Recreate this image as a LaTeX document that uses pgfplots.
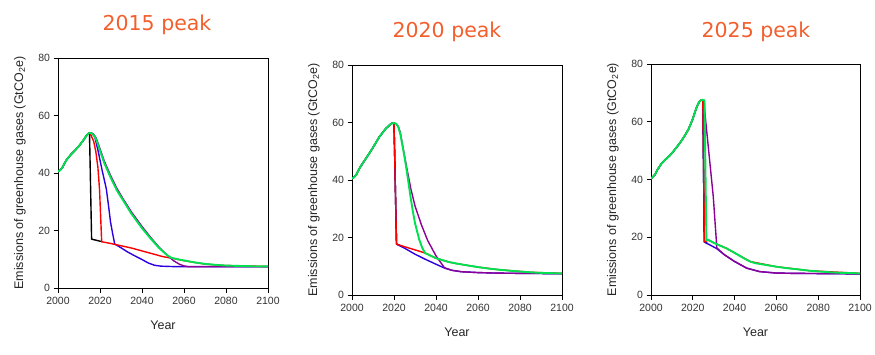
\documentclass[border=0pt]{standalone}
\usepackage{fontspec}
\setmainfont{Liberation Sans}
\newfontfamily\titlefont{DejaVu Sans}
\usepackage{pgfplots}
\pgfplotsset{compat=1.18}
\definecolor{cgreen}{RGB}{0,225,80}
\definecolor{cblue}{RGB}{45,0,225}
\definecolor{cpurple}{RGB}{140,0,150}
\definecolor{cred}{RGB}{255,0,0}
\definecolor{ctitle}{RGB}{242,95,45}
\pgfplotsset{
  panel/.style={
    scale only axis, width=210pt, height=230pt, anchor=south west,
    xmin=2000, xmax=2100, ymin=0, ymax=80,
    xtick={2000,2020,...,2100}, ytick={0,20,...,80},
    tick pos=left, tick align=outside, major tick length=4.5pt,
    axis line style={black, line width=0.7pt},
    tick style={black, line width=0.7pt},
    xticklabel style={font=\fontsize{10.5}{12}\selectfont, text=black!80, yshift=-1pt},
    yticklabel style={font=\fontsize{10.5}{12}\selectfont, text=black!80},
    /pgf/number format/assume math mode=true,
    /pgf/number format/1000 sep={},
    xlabel={Year},
    ylabel={Emissions of greenhouse gases (GtCO\textsubscript{2}e)},
    every axis x label/.style={at={(axis description cs:0.5,0)}, yshift=-37pt, anchor=center, font=\fontsize{12.5}{14}\selectfont, text=black!85},
    every axis y label/.style={at={(axis description cs:0,0.5)}, xshift=-38pt, rotate=90, anchor=center, font=\fontsize{12.5}{14}\selectfont, text=black!85},
    every axis plot/.append style={line join=round, line cap=round, no markers},
  },
  thin line/.style={line width=1.4pt},
  thick line/.style={line width=1.9pt},
}
\begin{document}
\begin{tikzpicture}[x=1pt,y=1pt]
\useasboundingbox (0,0) rectangle (875,354);
% ---------------- Panel 1: 2015 peak
\begin{axis}[panel, at={(58pt,66pt)}]
\addplot[black, thin line] coordinates {(2000,40.5)(2001,41)(2002,41.8)(2003,43.2)(2004,44.5)(2006,46.3)(2008,47.8)(2010,49.4)(2012,51.3)(2013,52.4)(2014,53.4)(2015,54)
 (2016,17)(2021,16.1)};
\addplot[cblue, thin line] coordinates {(2000,40.5)(2001,41)(2002,41.8)(2003,43.2)(2004,44.5)(2006,46.3)(2008,47.8)(2010,49.4)(2012,51.3)(2013,52.4)(2014,53.4)(2015,54)
 (2016,53.9)(2017.5,52.6)(2019,48)(2021,41)(2023,34.5)(2024,29)(2025,23)(2026,19)(2027,15.3)(2030,14)(2033,12.6)(2036,11.4)(2040,9.9)(2043,8.7)(2046,7.9)(2049,7.6)(2055,7.45)(2100,7.4)};
\addplot[cred, thin line] coordinates {(2000,40.5)(2001,41)(2002,41.8)(2003,43.2)(2004,44.5)(2006,46.3)(2008,47.8)(2010,49.4)(2012,51.3)(2013,52.4)(2014,53.4)(2015,54)
 (2015.5,53.5)(2017,51)(2018,47.5)(2019,42)(2019.8,34)(2020.3,25)(2020.8,16.1)(2025,15.5)(2030,14.7)(2035,13.9)(2040,12.9)(2045,11.9)(2050,10.9)(2054,10.4)(2060,9.5)(2070,8.3)(2080,7.8)(2100,7.5)};
\addplot[cpurple, thin line] coordinates {(2000,40.5)(2001,41)(2002,41.8)(2003,43.2)(2004,44.5)(2006,46.3)(2008,47.8)(2010,49.4)(2012,51.3)(2013,52.4)(2014,53.4)(2015,54)
 (2016,53.9)(2017,53.5)(2018,52.4)(2019,50.5)(2020,48.4)(2022,44.2)(2025,39.2)(2028,34.7)(2031,31)(2035,26.4)(2040,21.4)(2044,17.7)(2048,14.3)(2052,11.4)(2055,9.5)(2058,8.2)(2060,7.7)(2062,7.4)(2100,7.4)};
\addplot[cgreen, thick line] coordinates {(2000,40.5)(2001,41)(2002,41.8)(2003,43.2)(2004,44.5)(2006,46.3)(2008,47.8)(2010,49.4)(2012,51.3)(2013,52.4)(2014,53.4)(2015,54)
 (2016,53.8)(2017,53.2)(2018,52)(2019,50)(2020,47.8)(2022,43.5)(2025,38.5)(2028,34)(2031,30.5)(2035,25.8)(2040,20.8)(2044,17.3)(2048,14)(2052,11.4)(2054,10.5)(2057,10)(2060,9.6)(2065,8.9)(2070,8.4)(2075,8.05)(2080,7.8)(2090,7.6)(2100,7.5)};
\end{axis}
% ---------------- Panel 2: 2020 peak
\begin{axis}[panel, at={(352pt,59pt)}]
\addplot[black, thin line] coordinates {(2000,40.5)(2001,41)(2002,41.8)(2003,43.3)(2004,44.6)(2006,46.8)(2008,49)(2010,51.3)(2013,55)(2016,57.8)(2018,59.2)(2019,59.7)(2020,59.8)
 (2021.2,17.7)(2023,17.2)};
\addplot[cblue, thin line] coordinates {(2000,40.5)(2001,41)(2002,41.8)(2003,43.3)(2004,44.6)(2006,46.8)(2008,49)(2010,51.3)(2013,55)(2016,57.8)(2018,59.2)(2019,59.7)(2020,59.8)
 (2021.2,17.7)(2025,16.3)(2030,14.2)(2035,12.4)(2040,10.7)(2044.3,9.3)(2047.5,8.6)(2052,8.1)(2060,7.8)(2070,7.6)(2100,7.4)};
\addplot[cred, thin line] coordinates {(2000,40.5)(2001,41)(2002,41.8)(2003,43.3)(2004,44.6)(2006,46.8)(2008,49)(2010,51.3)(2013,55)(2016,57.8)(2018,59.2)(2019,59.7)(2020,59.8)
 (2021.2,17.7)(2025,16.8)(2030,15.7)(2034.8,14.6)(2040,12.8)(2046,11.5)(2050,10.9)(2060,9.7)(2070,8.8)(2085,7.9)(2100,7.5)};
\addplot[cpurple, thin line] coordinates {(2000,40.5)(2001,41)(2002,41.8)(2003,43.3)(2004,44.6)(2006,46.8)(2008,49)(2010,51.3)(2013,55)(2016,57.8)(2018,59.2)(2019,59.7)(2020,59.8)
 (2021,59.6)(2022,58.7)(2023,56.5)(2024,52.5)(2026,44.5)(2028,37)(2030,31)(2033,24.5)(2036,19)(2040,13.6)(2044,9.5)(2047.5,8.6)(2052,8.1)(2060,7.8)(2070,7.6)(2100,7.4)};
\addplot[cgreen, thick line] coordinates {(2000,40.5)(2001,41)(2002,41.8)(2003,43.3)(2004,44.6)(2006,46.8)(2008,49)(2010,51.3)(2013,55)(2016,57.8)(2018,59.2)(2019,59.7)(2020,59.8)
 (2021,59.6)(2022,58.5)(2023,56)(2024,52)(2025,48)(2026,43.5)(2027,38.5)(2028,33.5)(2029,29)(2030,25)(2032,19.3)(2033.5,16.3)(2034.8,14.6)(2040,12.8)(2046,11.5)(2050,10.9)(2055,10.3)(2060,9.7)(2065,9.2)(2070,8.8)(2076,8.4)(2085,7.9)(2090,7.7)(2100,7.5)};
\end{axis}
% ---------------- Panel 3: 2025 peak
\begin{axis}[panel, at={(651pt,59pt)}, width=209pt, height=231pt]
\addplot[black, thin line] coordinates {(2000,40.3)(2001,41)(2002,41.8)(2003,43.3)(2005,45.5)(2007,47)(2009,48.3)(2011,50)(2014,52.8)(2016,55)(2018,57.5)(2020,61)(2021,63.3)(2022,65.3)(2023,66.8)(2024,67.5)(2024.8,67.6)
 (2025.5,18.4)(2027,17.8)};
\addplot[cblue, thin line] coordinates {(2000,40.3)(2001,41)(2002,41.8)(2003,43.3)(2005,45.5)(2007,47)(2009,48.3)(2011,50)(2014,52.8)(2016,55)(2018,57.5)(2020,61)(2021,63.3)(2022,65.3)(2023,66.8)(2024,67.5)(2024.8,67.6)
 (2025.5,18.4)(2028,17.4)(2031.4,16.1)(2035,14)(2040,11.6)(2045.8,9.3)(2052,8.1)(2060,7.6)(2068,7.5)(2100,7.3)};
\addplot[cred, thin line] coordinates {(2000,40.3)(2001,41)(2002,41.8)(2003,43.3)(2005,45.5)(2007,47)(2009,48.3)(2011,50)(2014,52.8)(2016,55)(2018,57.5)(2020,61)(2021,63.3)(2022,65.3)(2023,66.8)(2024,67.5)(2024.8,67.6)
 (2025.6,18.4)(2027.4,19.0)(2030,18.1)(2036,16.2)(2040,14.6)(2047.4,11.6)(2060,9.8)(2076,8.4)(2100,7.5)};
\addplot[cpurple, thin line] coordinates {(2000,40.3)(2001,41)(2002,41.8)(2003,43.3)(2005,45.5)(2007,47)(2009,48.3)(2011,50)(2014,52.8)(2016,55)(2018,57.5)(2020,61)(2021,63.3)(2022,65.3)(2023,66.8)(2024,67.5)(2024.8,67.6)
 (2025.2,67.3)(2027.4,51.4)(2029.8,34)(2031.5,16.3)(2035,14)(2040,11.6)(2045.8,9.3)(2052,8.1)(2060,7.6)(2068,7.5)(2100,7.3)};
\addplot[cgreen, thick line] coordinates {(2000,40.3)(2001,41)(2002,41.8)(2003,43.3)(2005,45.5)(2007,47)(2009,48.3)(2011,50)(2014,52.8)(2016,55)(2018,57.5)(2020,61)(2021,63.3)(2022,65.3)(2023,66.8)(2024,67.5)(2024.8,67.6)
 (2025.6,67.4)(2026.5,19)(2027.4,19.1)(2030,18.1)(2033,17.1)(2036,16.2)(2040,14.6)(2044,12.9)(2047.4,11.6)(2050,11)(2055,10.4)(2060,9.8)(2065,9.3)(2070,8.9)(2076,8.4)(2085,7.9)(2090,7.7)(2100,7.5)};
\end{axis}
% ---------------- titles
\node[text=ctitle, font=\titlefont\fontsize{20.5}{24}\selectfont] at (157,329) {2015 peak};
\node[text=ctitle, font=\titlefont\fontsize{20.5}{24}\selectfont] at (447,322) {2020 peak};
\node[text=ctitle, font=\titlefont\fontsize{20.5}{24}\selectfont] at (756,322) {2025 peak};
\end{tikzpicture}
\end{document}
